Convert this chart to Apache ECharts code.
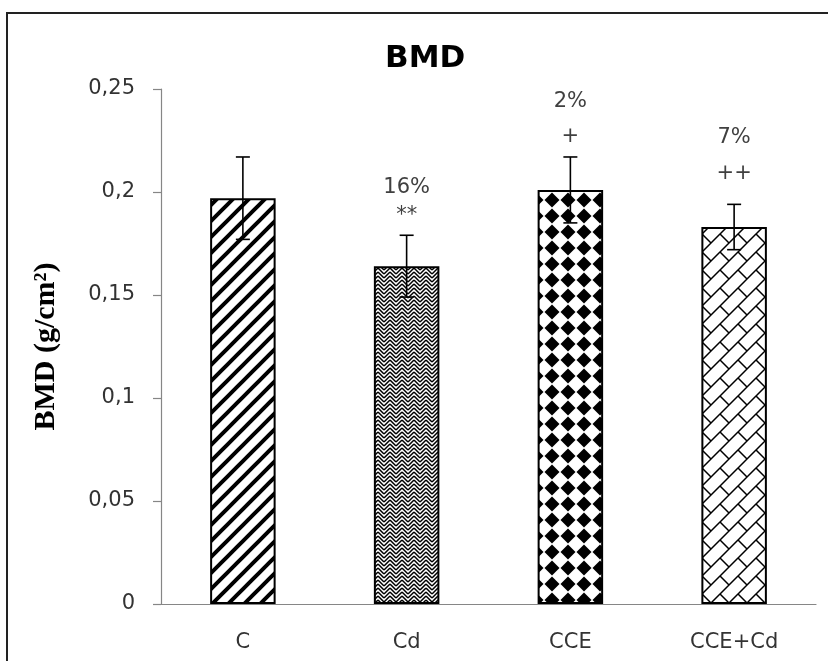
<!DOCTYPE html>
<html>
<head>
<meta charset="utf-8">
<title>BMD</title>
<script src="https://cdn.jsdelivr.net/npm/echarts@6.0.0/dist/echarts.min.js"></script>
<style>
  html, body { margin: 0; padding: 0; background: #fff; }
  #chart { width: 828px; height: 661px; }
</style>
</head>
<body>
<div id="chart"></div>
<script>
var chart = echarts.init(document.getElementById('chart'));

// data
var groups = ['C', 'Cd', 'CCE', 'CCE+Cd'];
var bmd = [0.197, 0.164, 0.201, 0.183];
var sem = [0.020, 0.015, 0.016, 0.011];
var yTicks = [0, 0.05, 0.1, 0.15, 0.2, 0.25];

// annotations over the bars (group index, height, text)
var noteGroup = [1, 1, 2, 2, 3, 3];
var noteY = [0.2024, 0.1885, 0.2437, 0.2267, 0.2262, 0.2092];
var noteText = ['16%', '**', '2%', '+', '7%', '++'];

// fill patterns
function tile(size, draw) {
  var c = document.createElement('canvas');
  c.width = size[0];
  c.height = size[1];
  var ctx = c.getContext('2d');
  ctx.fillStyle = '#fff';
  ctx.fillRect(0, 0, c.width, c.height);
  ctx.strokeStyle = '#000';
  ctx.fillStyle = '#000';
  draw(ctx);
  return { image: c, repeat: 'repeat' };
}

var stripes = tile([16, 16], function (ctx) {
  ctx.lineWidth = 4;
  ctx.beginPath();
  ctx.moveTo(-8, 8); ctx.lineTo(8, -8);
  ctx.moveTo(0, 16); ctx.lineTo(16, 0);
  ctx.moveTo(8, 24); ctx.lineTo(24, 8);
  ctx.stroke();
});

// small herringbone
var zigzag = tile([12, 12], function (ctx) {
  ctx.lineWidth = 1.5;
  ctx.beginPath();
  for (var k = -12; k <= 24; k += 4) {
    ctx.moveTo(0, k + 6); ctx.lineTo(6, k);
    ctx.moveTo(6, k); ctx.lineTo(12, k + 6);
  }
  ctx.stroke();
});

var diamonds = tile([16, 16], function (ctx) {
  ctx.beginPath();
  ctx.moveTo(8, 0.5); ctx.lineTo(15.5, 8); ctx.lineTo(8, 15.5); ctx.lineTo(0.5, 8);
  ctx.closePath();
  ctx.fill();
});

var bricks = tile([18, 18], function (ctx) {
  ctx.lineWidth = 1.5;
  ctx.beginPath();
  ctx.moveTo(-9, 9); ctx.lineTo(9, -9);
  ctx.moveTo(0, 18); ctx.lineTo(18, 0);
  ctx.moveTo(9, 27); ctx.lineTo(27, 9);
  ctx.moveTo(0, 0); ctx.lineTo(9, 9);
  ctx.stroke();
});

var fills = [stripes, zigzag, diamonds, bricks];

var labelFont = 'DejaVu Sans';

var option = {
  animation: false,
  backgroundColor: '#fff',
  title: {
    text: 'BMD',
    left: 380,
    top: 38,
    textStyle: {
      fontFamily: labelFont,
      fontWeight: 'bold',
      fontSize: 31,
      color: '#000'
    }
  },
  graphic: [{
    type: 'rect',
    shape: { x: 7, y: 13, width: 900, height: 700 },
    style: { fill: 'none', stroke: '#222', lineWidth: 2 },
    silent: true
  }],
  grid: {
    left: 161,
    right: 12,
    top: 89,
    bottom: 57
  },
  xAxis: {
    type: 'category',
    data: groups,
    axisLine: { lineStyle: { color: '#868686', width: 1.2 } },
    axisTick: { length: 8, lineStyle: { color: '#868686', width: 1.2 } },
    axisLabel: {
      margin: 28,
      color: '#333',
      fontFamily: labelFont,
      fontSize: 21
    }
  },
  yAxis: {
    type: 'value',
    min: 0,
    max: 0.25,
    interval: 0.05,
    name: 'BMD (g/cm²)',
    nameLocation: 'middle',
    nameGap: 100,
    nameTextStyle: {
      fontFamily: 'Liberation Serif',
      fontWeight: 'bold',
      fontSize: 30,
      color: '#000'
    },
    axisLine: { show: true, lineStyle: { color: '#868686', width: 1.2 } },
    axisTick: { show: true, length: 8, lineStyle: { color: '#868686', width: 1.2 } },
    splitLine: { show: false },
    axisLabel: {
      margin: 26,
      color: '#333',
      fontFamily: labelFont,
      fontSize: 21,
      formatter: function (v) {
        var t = yTicks.filter(function (k) { return Math.abs(k - v) < 1e-9; });
        return String(t.length ? t[0] : v).replace('.', ',');
      }
    }
  },
  series: [
    {
      name: 'BMD',
      type: 'bar',
      barWidth: '40%',
      data: bmd.map(function (v, i) {
        return {
          value: v,
          itemStyle: { color: fills[i], borderColor: '#000', borderWidth: 2 }
        };
      })
    },
    {
      name: 'SEM',
      type: 'custom',
      z: 5,
      data: bmd.map(function (v, i) { return [i, v, sem[i]]; }),
      renderItem: function (params, api) {
        var i = api.value(0), v = api.value(1), e = api.value(2);
        var top = api.coord([i, v + e]);
        var bot = api.coord([i, v - e]);
        var w = 7;
        var st = { stroke: '#000', lineWidth: 1.6 };
        return {
          type: 'group',
          children: [
            { type: 'line', shape: { x1: top[0], y1: top[1], x2: bot[0], y2: bot[1] }, style: st },
            { type: 'line', shape: { x1: top[0] - w, y1: top[1], x2: top[0] + w, y2: top[1] }, style: st },
            { type: 'line', shape: { x1: bot[0] - w, y1: bot[1], x2: bot[0] + w, y2: bot[1] }, style: st }
          ]
        };
      }
    },
    {
      name: 'notes',
      type: 'custom',
      z: 6,
      data: noteGroup.map(function (g, i) { return [g, noteY[i]]; }),
      renderItem: function (params, api) {
        var p = api.coord([api.value(0), api.value(1)]);
        return {
          type: 'text',
          x: p[0],
          y: p[1],
          style: {
            text: noteText[params.dataIndex],
            fill: '#404040',
            font: '21px "' + labelFont + '"',
            align: 'center',
            verticalAlign: 'middle'
          }
        };
      }
    }
  ]
};

chart.setOption(option);
</script>
</body>
</html>
